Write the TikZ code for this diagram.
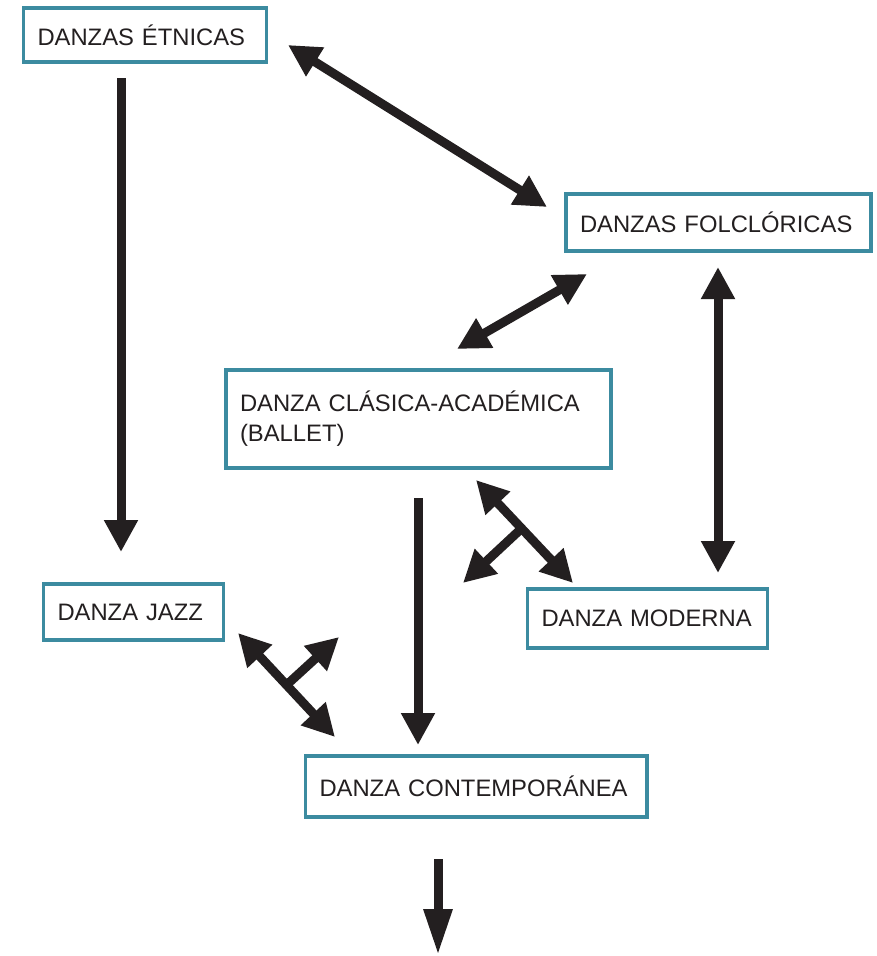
\documentclass[tikz,border=0pt]{standalone}
\usepackage{fontspec}
\setmainfont{Liberation Sans}
\usetikzlibrary{arrows.meta,calc}
\definecolor{borde}{HTML}{3C8BA0}
\definecolor{tinta}{HTML}{231F20}

\begin{document}
\begin{tikzpicture}[
    x=1pt, y=-1pt,
    every node/.style={font=\fontsize{23.8pt}{30pt}\selectfont, text=tinta},
    danza/.style={draw=borde, line width=3.5pt, outer sep=0pt, anchor=north west, align=left, inner xsep=14pt, fill=white},
    flecha/.style={-{Triangle[length=32pt, width=32pt]}, line width=9pt, draw=tinta},
    doble/.style={{Triangle[length=32pt, width=32pt]}-{Triangle[length=32pt, width=32pt]}, line width=9pt, draw=tinta},
    salida/.style={-{Triangle[length=46pt, width=27pt]}, line width=9pt, draw=tinta}
]
\useasboundingbox (0,0) rectangle (877,956);
\node[danza, text width=215pt, minimum height=54pt] (etnicas) at (23.5,8) {DANZAS ÉTNICAS};
\node[danza, text width=277pt, minimum height=57pt] (folclor) at (566,194) {DANZAS FOLCLÓRICAS};
\node[danza, text width=357pt, minimum height=98pt] (clasica) at (226,370) {DANZA CLÁSICA-ACADÉMICA\\(BALLET)};
\node[danza, text width=152pt, minimum height=56pt] (jazz) at (43.5,584) {DANZA JAZZ};
\node[danza, text width=212pt, minimum height=59pt] (moderna) at (527.5,589) {DANZA MODERNA};
\node[danza, text width=313.5pt, minimum height=61pt] (contemp) at (305.5,756) {DANZA CONTEMPORÁNEA};
\coordinate (etn-a) at (121,78);
\coordinate (etn-b) at (121,552);
\coordinate (etfo-a) at (288,45);
\coordinate (etfo-b) at (547,207);
\coordinate (focl-a) at (587,274);
\coordinate (focl-b) at (457,349);
\coordinate (fomo-a) at (718,267);
\coordinate (fomo-b) at (718,573);
\coordinate (clco-a) at (418,498);
\coordinate (clco-b) at (418,745);
\coordinate (clmo-a) at (476,480);
\coordinate (clmo-b) at (573,583);
\coordinate (clmo-c) at (463,583);
\coordinate (jaco-a) at (238,633);
\coordinate (jaco-b) at (335,737);
\coordinate (jaco-c) at (339,637);
\coordinate (con-a) at (438,859);
\coordinate (con-b) at (438,955);
\draw[flecha] (etn-a) -- (etn-b);
\draw[doble] (etfo-a) -- (etfo-b);
\draw[doble] (focl-a) -- (focl-b);
\draw[doble] (fomo-a) -- (fomo-b);
\draw[flecha] (clco-a) -- (clco-b);
\draw[doble] (clmo-a) -- (clmo-b);
\draw[flecha] ($(clmo-a)!0.47!(clmo-b)$) -- (clmo-c);
\draw[doble] (jaco-a) -- (jaco-b);
\draw[flecha] ($(jaco-a)!0.5!(jaco-b)$) -- (jaco-c);
\draw[salida] (con-a) -- (con-b);
\end{tikzpicture}
\end{document}
